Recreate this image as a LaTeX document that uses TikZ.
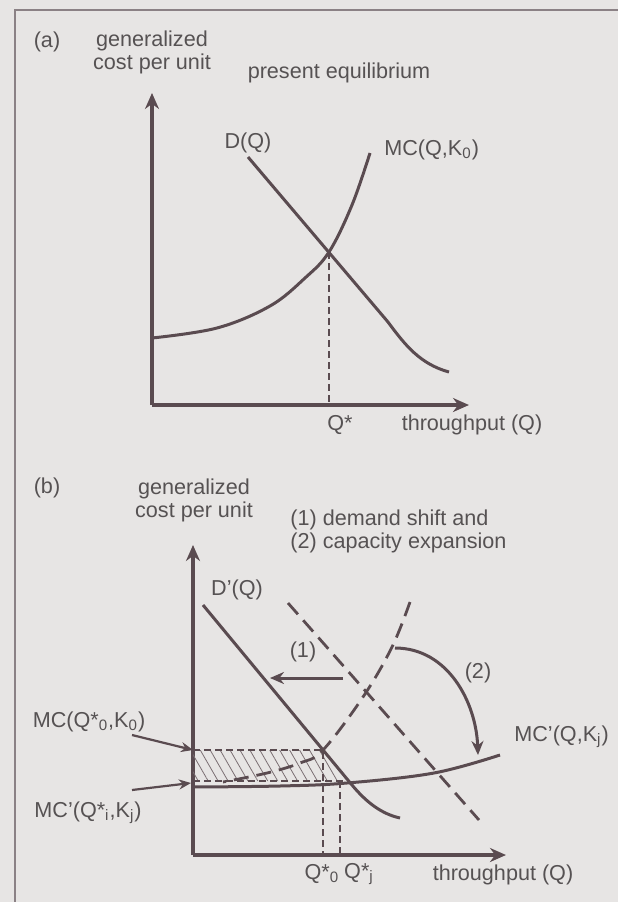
\documentclass[tikz,border=0pt]{standalone}
\usepackage{fontspec}
\setmainfont{Liberation Sans}
\usetikzlibrary{arrows.meta, patterns.meta}

\definecolor{paper}{HTML}{E7E5E4}
\definecolor{ink}{HTML}{5A4B50}
\definecolor{txt}{HTML}{565253}

\begin{document}
\begin{tikzpicture}[
    x=0.5pt, y=-0.5pt,
    lbl/.style={
        text=txt,
        font=\fontsize{10.8}{11.5}\selectfont,
        inner sep=0pt,
        align=center
    },
    axis/.style={
        -{Stealth[length=8pt,width=7pt]},
        draw=ink,
        line width=1.9pt
    },
    curve/.style={
        draw=ink,
        line width=1.5pt
    },
    oldcurve/.style={
        draw=ink,
        line width=1.4pt,
        dash pattern=on 7.5pt off 4pt
    },
    guide/.style={
        draw=ink,
        line width=0.7pt,
        dash pattern=on 3.5pt off 2pt
    },
    shiftarrow/.style={
        -{Stealth[length=7pt,width=6pt]},
        draw=ink,
        line width=1.5pt
    },
    pointer/.style={
        -{Stealth[length=6pt,width=5pt]},
        draw=ink,
        line width=1.1pt
    }
]

% Page
\fill[paper] (0,0) rectangle (618,902);
\useasboundingbox (0,0) rectangle (618,902);
\draw[ink!70, line width=0.7pt] (15,902) -- (15,10) -- (618,10);

% Panel (a): axes
\coordinate (ao) at (152,405);
\coordinate (aytop) at (152,93);
\coordinate (axend) at (469,405);
\coordinate (astar) at (329,252);
\coordinate (astarfoot) at (329,405);
\draw [axis] (ao) -- (aytop);
\draw [axis] (ao) -- (axend);

% Panel (a): nodes
\node (tagA) [lbl] at (47,42) {(a)};
\node (ylabA) [lbl] at (152,52) {generalized\\cost per unit};
\node (titleA) [lbl] at (339,73) {present equilibrium};
\node (demA) [lbl] at (248,143) {D(Q)};
\node (mcA) [lbl, anchor=west] at (384,150) {MC(Q,K\textsubscript{0})};
\node (qstarA) [lbl] at (340,425) {Q*};
\node (xlabA) [lbl] at (472,425) {throughput (Q)};

% Panel (a): curves
\draw [curve] (248,157) -- (388,322) .. controls (405,345) and (420,364) .. (449,372);
\draw [curve] plot[smooth, tension=0.6] coordinates {(152,338) (217,328) (270,306) (305,278) (329,252) (352,205) (370,153)};
\draw [guide] (astar) -- (astarfoot);

% Panel (b): axes
\coordinate (bo) at (193,855);
\coordinate (bytop) at (193,545);
\coordinate (bxend) at (506,855);
\draw [axis] (bo) -- (bytop);
\draw [axis] (bo) -- (bxend);

% Panel (b): nodes
\node (tagB) [lbl] at (47,488) {(b)};
\node (ylabB) [lbl] at (194,500) {generalized\\cost per unit};
\node (noteB) [lbl, anchor=west, align=left] at (290,531) {(1) demand shift and\\(2) capacity expansion};
\node (demB) [lbl] at (237,590) {D'(Q)};
\node (mcB) [lbl, anchor=west] at (514,737) {MC'(Q,K\textsubscript{j})};
\node (mcOld) [lbl] at (89,722) {MC(Q*\textsubscript{0},K\textsubscript{0})};
\node (mcNew) [lbl] at (88,813) {MC'(Q*\textsubscript{i},K\textsubscript{j})};
\node (one) [lbl] at (303,652) {(1)};
\node (two) [lbl] at (478,673) {(2)};
\node (qzero) [lbl] at (322,874) {Q*\textsubscript{0}};
\node (qj) [lbl] at (359,874) {Q*\textsubscript{j}};
\node (xlabB) [lbl] at (503,875) {throughput (Q)};

% Panel (b): shaded gain
\coordinate (htl) at (193,750);
\coordinate (htr) at (323,750);
\coordinate (hbr) at (340,781);
\coordinate (hbl) at (193,781);
\fill [pattern={Lines[angle=-60,distance=4.3pt,line width=0.4pt]}, pattern color=ink!80] (htl) -- (htr) -- (hbr) -- (hbl) -- cycle;
\draw [guide] (htl) -- (htr) -- (323,855);
\draw [guide] (hbl) -- (343,781);
\draw [guide] (hbr) -- (340,855);

% Panel (b): curves
\draw [oldcurve] (288,603) -- (479,820);
\draw [oldcurve] plot[smooth, tension=0.6] coordinates {(410,602) (392,647) (363,697) (323,750) (300,763) (267,773) (223,782)};
\draw [curve] (203,605) -- (352,785) .. controls (367,803) and (382,814) .. (400,818);
\draw [curve] plot[smooth, tension=0.6] coordinates {(193,787) (280,786) (347,783) (434,773) (500,755)};

% Panel (b): arrows
\coordinate (sfrom) at (343,678);
\coordinate (sto) at (270,678);
\coordinate (cfrom) at (395,648);
\coordinate (cto) at (478,755);
\draw [shiftarrow] (sfrom) -- (sto);
\draw [shiftarrow] (cfrom) to[out=0, in=92] (cto);
\draw [pointer] (132,735) -- (htl);
\draw [pointer] (132,790) -- (191,783);

\end{tikzpicture}
\end{document}
